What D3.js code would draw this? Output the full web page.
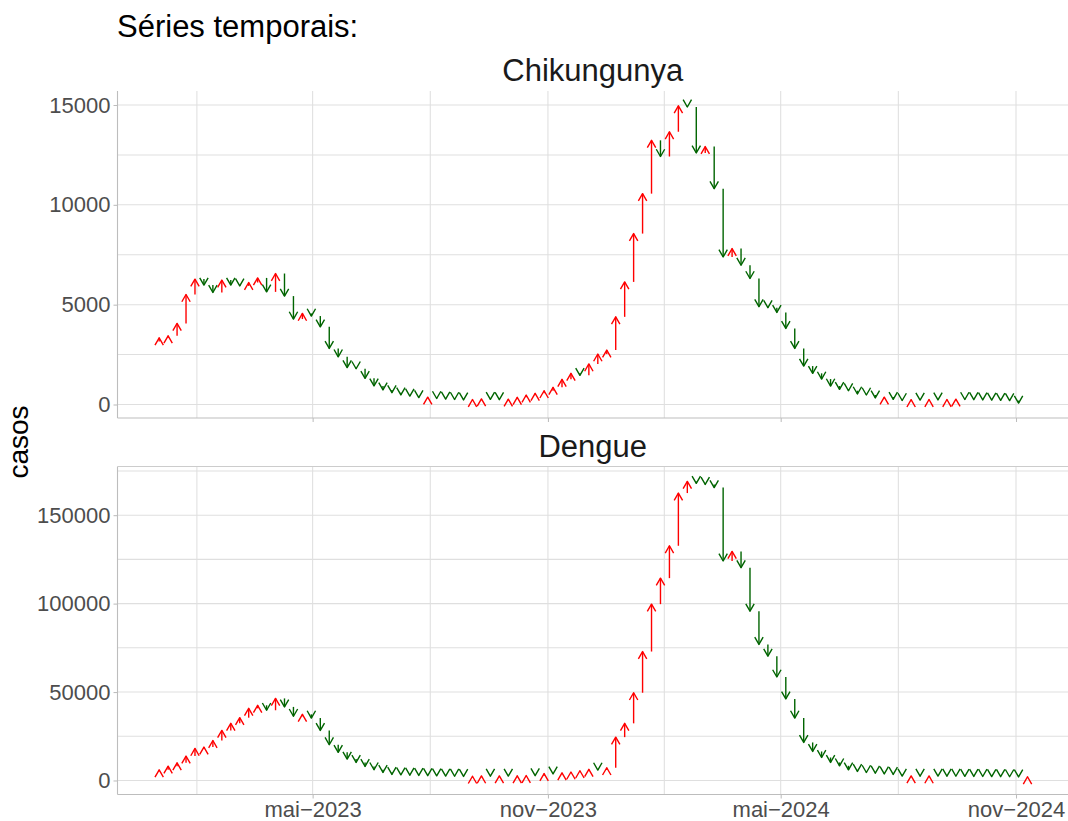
<!DOCTYPE html>
<html>
<head>
<meta charset="utf-8">
<script src="https://cdn.jsdelivr.net/npm/d3@7"></script>
<style>
  body { margin: 0; background: #fff; }
  text { font-family: "Liberation Sans", Arial, Helvetica, sans-serif; }
</style>
</head>
<body>
<svg></svg>
<script>
// semana epidemiológica anterior à primeira seta (valor de partida)
const semanaInicial = "2022-12-25";

// casos semanais (índice 0 = semana de partida)
const chikungunya = [
  3150,
  3340, 3440, 4060, 5510, 6280, 5980, 5610, 6230, 5980, 5940,
  6110, 6340, 5640, 6560, 5430, 4280, 4560, 4430, 3890, 2810,
  2390, 1850, 1790, 1310, 930, 730, 590, 480, 420, 345,
  370, 300, 270, 250, 230, 250, 280, 260, 240, 270,
  360, 475, 560, 690, 860, 1260, 1560, 1460, 2030, 2530,
  2725, 4390, 6140, 8560, 10560, 13230, 12420, 13660, 14960, 14900,
  12600, 12920, 10810, 7390, 7810, 6975, 6310, 4900, 4850, 4610,
  3810, 2810, 1925, 1560, 1275, 925, 760, 690, 525, 475,
  330, 370, 260, 200, 240, 220, 250, 230, 250, 270,
  250, 240, 230, 220, 210, 195, 70
];

const dengue = [
  5200,
  6000, 8100, 10000, 13800, 18100, 18900, 22600, 28300, 32300, 35500,
  40800, 42500, 39700, 46400, 41600, 36300, 37400, 35300, 28300, 20200,
  15900, 12100, 10200, 7950, 6050, 4550, 3400, 3200, 3000, 2850,
  2700, 2600, 2500, 2400, 2300, 2400, 2550, 2450, 2600, 2500,
  2650, 2800, 2700, 3900, 3700, 4300, 4800, 5500, 6300, 5900,
  7200, 24500, 32300, 49600, 72900, 99700, 114400, 132700, 162500, 169100,
  168000, 167400, 165600, 124100, 129500, 120300, 95700, 76900, 70300, 58500,
  46100, 35300, 21500, 16400, 13000, 10200, 8300, 6000, 5100, 4500,
  4100, 3700, 3400, 2500, 2600, 2450, 2550, 2500, 2450, 2400,
  2350, 2300, 2250, 2200, 2150, 2100, 2000, 2100
];

const ticksChik = [0, 5000, 10000, 15000];
const ticksDengue = [0, 50000, 100000, 150000];
const limitesChik = [-676, 15701];
const limitesDengue = [-7930, 177520];
const xTickDates = ["2022-11-01", "2023-05-01", "2023-11-01", "2024-05-01", "2024-11-01", "2025-05-01"];
const xTickLabels = ["nov\u22122022", "mai\u22122023", "nov\u22122023", "mai\u22122024", "nov\u22122024", "mai\u22122025"];

const width = 1068, height = 821;
const left = 117.5, right = 1068;
const corSobe = "#ff0000", corDesce = "#006400";
const gridCor = "#dfdfdf", eixoCor = "#bdbdbd", textoCor = "#4d4d4d";
const fonte = '"Liberation Sans", Arial, sans-serif';

const svg = d3.select('svg')
  .attr('width', width)
  .attr('height', height);

const parse = d3.utcParse("%Y-%m-%d");
const inicio = parse(semanaInicial);
const xScale = d3.scaleUtc()
  .domain([new Date(Date.UTC(2022, 10, 29, 10)), new Date(Date.UTC(2024, 11, 11, 16))])
  .range([left, right]);

const majors = xTickDates.map(parse);
const minors = d3.pairs(majors).map(([a, b]) => new Date((+a + +b) / 2));
const [d0, d1] = xScale.domain();
const inX = d => d >= d0 && d <= d1;

svg.append('text')
  .attr('x', 117)
  .attr('y', 37)
  .attr('font-size', 31)
  .attr('fill', '#000')
  .text('Séries temporais:');

svg.append('text')
  .attr('transform', 'translate(28,442) rotate(-90)')
  .attr('text-anchor', 'middle')
  .attr('font-size', 28)
  .attr('fill', '#000')
  .text('casos');

const paineis = [
  { nome: 'Chikungunya', valores: chikungunya, ticks: ticksChik, limites: limitesChik, top: 91, bottom: 418, rotulosX: false, bordaTopo: false },
  { nome: 'Dengue', valores: dengue, ticks: ticksDengue, limites: limitesDengue, top: 466.5, bottom: 794.5, rotulosX: true, bordaTopo: true }
];

paineis.forEach(p => {
  const g = svg.append('g');
  const [lo, hi] = p.limites;
  const yScale = d3.scaleLinear().domain(p.limites).range([p.bottom, p.top]);
  const step = p.ticks[1] - p.ticks[0];
  const yMinor = [p.ticks[0] - step / 2, ...p.ticks.map(t => t + step / 2)]
    .filter(v => v >= lo && v <= hi);

  // grade
  g.selectAll('.gy').data(yMinor.concat(p.ticks)).join('line')
    .attr('x1', left).attr('x2', right)
    .attr('y1', d => yScale(d)).attr('y2', d => yScale(d))
    .attr('stroke', gridCor).attr('stroke-width', 1.05);
  g.selectAll('.gx').data(minors.filter(inX).concat(majors.filter(inX))).join('line')
    .attr('x1', d => xScale(d)).attr('x2', d => xScale(d))
    .attr('y1', p.top).attr('y2', p.bottom)
    .attr('stroke', gridCor).attr('stroke-width', 1.05);

  // eixos
  const yAxis = d3.axisLeft(yScale).tickValues(p.ticks).tickFormat(d3.format('d'))
    .tickSize(4).tickPadding(3);
  const yAxisG = g.append('g').attr('transform', `translate(${left},0)`).call(yAxis);
  yAxisG.select('.domain').remove();
  yAxisG.selectAll('line').attr('stroke', eixoCor).attr('stroke-width', 1.05);
  yAxisG.selectAll('text').attr('font-size', 22).attr('fill', textoCor).attr('font-family', fonte);

  const xAxis = d3.axisBottom(xScale)
    .tickValues(majors.filter(inX))
    .tickFormat(d => xTickLabels[majors.findIndex(m => +m === +d)])
    .tickSize(4).tickPadding(3);
  const xAxisG = g.append('g').attr('transform', `translate(0,${p.bottom})`).call(xAxis);
  xAxisG.select('.domain').remove();
  xAxisG.selectAll('line').attr('stroke', eixoCor).attr('stroke-width', 1.05);
  xAxisG.selectAll('text').attr('font-size', 22).attr('fill', textoCor).attr('font-family', fonte);
  if (!p.rotulosX) xAxisG.selectAll('text').remove();

  g.append('line')
    .attr('x1', left).attr('x2', left).attr('y1', p.top).attr('y2', p.bottom)
    .attr('stroke', eixoCor).attr('stroke-width', 1.1);
  g.append('line')
    .attr('x1', left).attr('x2', right).attr('y1', p.bottom).attr('y2', p.bottom)
    .attr('stroke', eixoCor).attr('stroke-width', 1.1);
  if (p.bordaTopo) {
    g.append('line')
      .attr('x1', left).attr('x2', right).attr('y1', p.top).attr('y2', p.top)
      .attr('stroke', '#cccccc').attr('stroke-width', 1.1);
  }

  // título do painel
  g.append('text')
    .attr('x', (left + right) / 2)
    .attr('y', p.top - 10)
    .attr('text-anchor', 'middle')
    .attr('font-size', 31)
    .attr('fill', '#1a1a1a')
    .text(p.nome);

  // setas semana a semana
  const setas = p.valores.slice(1).map((v, i) => ({
    data: d3.utcDay.offset(inicio, 7 * (i + 1)),
    de: p.valores[i],
    para: v
  }));
  const L = 8.4, ang = Math.PI / 6;
  const seta = g.selectAll('.seta').data(setas).join('g')
    .attr('stroke', d => d.para > d.de ? corSobe : corDesce)
    .attr('stroke-width', 1.4)
    .attr('fill', 'none')
    .attr('stroke-linejoin', 'round');
  seta.append('line')
    .attr('x1', d => xScale(d.data)).attr('x2', d => xScale(d.data))
    .attr('y1', d => yScale(d.de)).attr('y2', d => yScale(d.para));
  seta.append('path')
    .attr('d', d => {
      const x = xScale(d.data), y = yScale(d.para);
      const s = d.para > d.de ? 1 : -1;
      const dx = L * Math.sin(ang), dy = L * Math.cos(ang) * s;
      const path = d3.path();
      path.moveTo(x - dx, y + dy);
      path.lineTo(x, y);
      path.lineTo(x + dx, y + dy);
      return path.toString();
    });
});
</script>
</body>
</html>
